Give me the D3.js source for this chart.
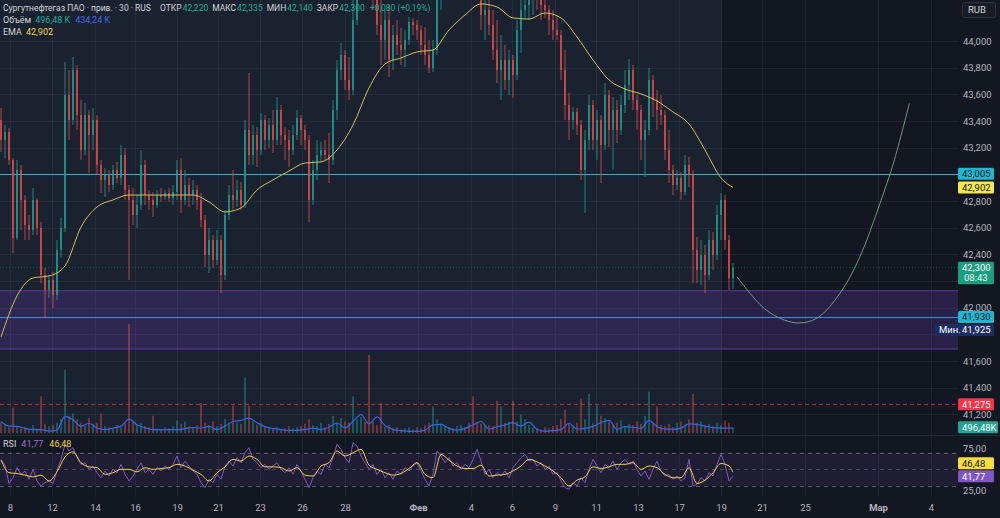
<!DOCTYPE html>
<html><head><meta charset="utf-8">
<script src="https://cdn.jsdelivr.net/npm/d3@7"></script>
<style>html,body{margin:0;padding:0;background:#131722;}svg{display:block;}text{font-family:Roboto,"Noto Sans",sans-serif;}</style>
</head><body><svg id="c" width="1000" height="518"></svg>
<script>
// ---------- DATA ----------
const opens=[43.408,43.258,43.318,43.108,42.523,43.033,42.808,42.62,42.583,42.808,
42.598,42.245,42.133,42.208,42.095,42.433,42.598,43.595,43.408,43.783,
43.445,43.183,43.445,43.295,43.408,43.07,42.958,42.995,42.92,43.033,
42.973,43.145,42.883,42.808,42.695,42.77,43.07,42.845,42.808,42.77,
42.845,42.83,42.86,42.823,42.868,43.033,42.808,42.92,42.845,42.883,
42.808,42.658,42.395,42.508,42.358,42.508,42.245,42.695,42.845,42.808,
42.883,42.77,43.333,43.145,43.295,43.183,43.408,43.258,43.37,43.258,
43.483,43.295,43.258,43.183,43.295,43.423,43.333,43.258,42.808,43.033,
43.145,43.183,43.145,43.108,43.483,43.783,43.895,43.708,43.633,44.158,
44.533,44.608,44.533,44.458,44.308,44.12,44.008,44.158,43.858,44.045,
43.97,43.933,44.008,44.143,44.12,44.083,43.97,43.895,43.798,43.933,
44.308,44.458,44.533,44.683,44.608,44.72,44.758,44.683,44.608,44.495,
44.383,44.195,44.233,44.12,43.933,43.783,43.858,43.708,43.858,43.745,
44.083,44.233,44.27,44.308,44.345,44.308,44.27,44.233,44.158,44.083,
44.045,43.783,43.52,43.408,43.468,43.37,43.033,43.258,43.52,43.258,
43.408,43.22,43.595,43.333,43.483,43.333,43.52,43.67,43.783,43.558,
43.483,43.258,43.333,43.708,43.558,43.483,43.445,43.183,43.033,42.92,
42.973,42.868,43.07,42.995,42.433,42.283,42.395,42.245,42.508,42.395,
42.695,42.808,42.508,42.22];
const highs=[43.498,43.37,43.348,43.123,43.108,43.07,42.845,42.695,42.898,42.823,
42.643,42.30,42.245,42.268,42.508,42.673,43.843,43.783,43.88,43.82,
43.558,43.535,43.483,43.498,43.445,43.108,43.048,43.033,43.07,43.093,
43.22,43.198,42.92,42.898,42.845,43.183,43.108,42.883,42.868,42.883,
42.898,42.883,42.898,42.92,43.108,43.123,43.033,42.973,42.958,42.92,
42.86,42.695,42.598,42.545,42.583,42.545,42.733,42.92,43.033,42.958,
42.943,43.408,43.76,43.37,43.355,43.46,43.445,43.423,43.483,43.58,
43.52,43.355,43.333,43.37,43.483,43.445,43.37,43.295,43.108,43.258,
43.243,43.258,43.31,43.558,43.858,43.985,43.933,43.88,44.345,44.758,
44.833,44.908,44.758,44.683,44.458,44.308,44.233,44.27,44.12,44.158,
44.098,44.083,44.18,44.173,44.158,44.12,44.105,44.008,44.008,44.458,
44.533,44.608,44.758,44.833,44.833,44.908,44.945,44.833,44.758,44.645,
44.458,44.345,44.383,44.233,44.158,44.045,43.97,43.933,43.895,44.158,
44.308,44.383,44.42,44.458,44.458,44.42,44.383,44.27,44.233,44.195,
44.083,43.933,43.61,43.505,43.498,43.408,43.333,43.595,43.558,43.483,
43.445,43.685,43.633,43.58,43.558,43.595,43.783,43.865,43.82,43.595,
43.52,43.408,43.798,43.745,43.633,43.595,43.483,43.333,43.07,43.033,
43.018,43.145,43.13,43.033,42.53,42.508,42.47,42.583,42.568,42.77,
42.86,42.845,42.545,42.335];
const lows=[43.168,43.123,43.07,42.41,42.508,42.583,42.508,42.508,42.545,42.545,
42.185,41.925,42.073,41.998,42.058,42.373,42.568,43.258,43.37,43.333,
43.108,43.145,43.01,43.183,42.995,42.86,42.83,42.868,42.883,42.935,
42.92,42.808,42.208,42.62,42.598,42.733,42.77,42.733,42.68,42.748,
42.793,42.808,42.793,42.77,42.808,42.71,42.77,42.755,42.77,42.733,
42.605,42.305,42.26,42.30,42.32,42.11,42.208,42.658,42.733,42.755,
42.733,42.748,43.07,43.07,43.055,43.145,43.183,43.198,43.16,43.22,
43.22,43.108,43.055,43.145,43.258,43.22,43.183,42.643,42.77,42.958,
43.093,43.108,42.935,43.07,43.408,43.708,43.633,43.558,43.595,44.12,
44.345,44.383,44.345,44.233,44.045,43.82,43.858,43.73,43.783,43.895,
43.82,43.805,43.97,44.045,44.008,43.895,43.82,43.76,43.768,43.895,
44.233,44.345,44.458,44.533,44.495,44.608,44.608,44.533,44.42,44.308,
44.083,44.008,44.045,43.858,43.685,43.558,43.633,43.595,43.573,43.708,
43.91,44.158,44.158,44.195,44.233,44.158,44.173,44.045,44.008,44.008,
43.708,43.408,43.258,43.333,43.295,42.958,42.71,43.183,43.183,43.108,
42.935,43.183,43.205,43.033,43.235,43.295,43.46,43.558,43.483,43.333,
43.108,42.98,43.295,43.43,43.333,43.37,43.108,42.935,42.845,42.883,
42.808,42.845,42.905,42.185,42.185,42.17,42.11,42.208,42.283,42.358,
42.508,42.433,42.133,42.14];
const closes=[43.258,43.318,43.108,42.523,43.033,42.808,42.62,42.583,42.808,42.598,
42.245,42.133,42.208,42.095,42.433,42.598,43.595,43.408,43.783,43.445,
43.183,43.445,43.295,43.408,43.07,42.958,42.995,42.92,43.033,42.973,
43.145,42.883,42.808,42.695,42.77,43.07,42.845,42.808,42.77,42.845,
42.83,42.86,42.823,42.868,43.033,42.808,42.92,42.845,42.883,42.808,
42.658,42.395,42.508,42.358,42.508,42.245,42.695,42.845,42.808,42.883,
42.77,43.333,43.145,43.295,43.183,43.408,43.258,43.37,43.258,43.483,
43.295,43.258,43.183,43.295,43.423,43.333,43.258,42.808,43.033,43.145,
43.183,43.145,43.108,43.483,43.783,43.895,43.708,43.633,44.158,44.533,
44.608,44.533,44.458,44.308,44.12,44.008,44.158,43.858,44.045,43.97,
43.933,44.008,44.143,44.12,44.083,43.97,43.895,43.798,43.933,44.308,
44.458,44.533,44.683,44.608,44.72,44.758,44.683,44.608,44.495,44.383,
44.195,44.233,44.12,43.933,43.783,43.858,43.708,43.858,43.745,44.083,
44.233,44.27,44.308,44.345,44.308,44.27,44.233,44.158,44.083,44.045,
43.783,43.52,43.408,43.468,43.37,43.033,43.258,43.52,43.258,43.408,
43.22,43.595,43.333,43.483,43.333,43.52,43.67,43.783,43.558,43.483,
43.258,43.333,43.708,43.558,43.483,43.445,43.183,43.033,42.92,42.973,
42.868,43.07,42.995,42.433,42.283,42.395,42.245,42.508,42.395,42.695,
42.808,42.508,42.22,42.30];
// volume, thousands
const volumes=[900,700,500,2200,600,400,500,300,700,400,3200,800,600,700,900,1200,
5500,1500,1700,1200,900,600,1300,800,900,1700,600,500,400,700,500,900,
9500,1100,700,900,600,500,1500,400,300,500,400,600,1100,800,1000,600,
500,700,2600,900,700,1000,600,800,1200,900,2400,900,800,4800,2400,1000,
700,900,600,500,400,500,300,400,600,400,500,600,800,1200,700,600,
900,500,800,1500,900,1300,1000,900,3200,1200,1400,1000,6800,1000,700,2600,
500,700,400,500,300,400,500,300,500,400,700,900,2300,1200,800,600,
500,400,600,700,500,900,3200,900,800,700,700,600,2800,2300,900,1000,
2800,1000,1600,1200,700,500,400,300,500,400,600,700,1200,2000,800,700,
900,3000,1200,3400,900,2400,1500,1300,1000,700,900,1100,600,800,700,1000,
800,1500,3600,900,2300,700,600,800,500,900,1000,700,1200,3400,900,1000,
700,800,600,900,700,1100,900,496.48];
// volume moving average, sampled every 2nd bar, last value at the last bar
const volumeMA=[1000,600,580,400,300,300,160,260,1450,1150,600,850,430,300,430,600,1200,720,450,300,
290,290,290,380,480,430,570,300,600,1000,1100,1300,900,550,400,300,230,230,300,430,
300,500,870,450,1000,1600,800,1400,650,320,200,145,145,250,700,750,400,240,400,700,
1000,350,550,700,900,600,950,320,150,200,300,850,350,400,580,900,1100,320,550,500,
400,1100,550,350,330,430,800,750,600,470,430,430,434.24];
// EMA sampled every 4th bar, last value at the last bar
const ema=[41.78,42.088,42.223,42.238,42.313,42.605,42.755,42.808,42.845,42.845,
42.845,42.845,42.845,42.793,42.718,42.748,42.883,42.958,43.025,43.085,
43.093,43.183,43.37,43.648,43.828,43.873,43.918,43.933,44.083,44.195,
44.278,44.255,44.173,44.165,44.21,44.173,44.03,43.858,43.708,43.64,
43.603,43.55,43.468,43.378,43.183,42.973,42.902];
const rsi=[62,55,33,40,52,44,48,38,50,36,30,34,36,33,48,62,80,72,76,64,
56,58,50,54,46,40,48,42,50,46,56,44,36,42,50,58,46,50,44,52,
48,54,50,56,66,52,60,54,48,44,34,28,38,34,44,38,54,60,54,64,
58,70,76,62,58,52,56,50,54,58,50,46,52,44,56,48,38,28,40,48,
44,56,52,64,80,74,64,58,82,78,66,58,50,56,44,50,40,46,38,48,
44,52,48,54,58,48,38,30,44,72,66,58,64,54,58,50,56,52,62,74,
60,44,50,40,46,42,48,40,52,58,64,68,60,62,54,58,50,54,44,46,
36,28,26,34,30,40,34,50,62,54,46,56,52,60,50,58,62,56,60,50,
42,48,38,50,60,48,42,44,38,42,36,40,62,30,32,40,36,46,42,56,
68,56,36,41.77];
// RSI moving average sampled every 2nd bar, last value at the last bar
const rsiMA=[61,46,45,43,41,43,36,47,65,71,58,53,52,44,46,50,50,47,52,50,
51,52,56,54,49,44,36,46,53,62,60,66,62,53,53,52,48,52,43,42,
54,58,72,66,70,74,55,50,46,43,45,51,58,44,40,68,61,54,51,51,
55,42,43,44,48,54,62,59,54,48,40,30,37,41,53,51,53,56,56,58,
50,54,52,44,40,40,52,33,37,46,57,54,46.48];
// time axis (bar positions of day labels)
const tickPos=[2.25,12.75,23.5,33.5,44,54.25,64.75,75.25,86,104.25,117.5,127.75,138.5,148.75,159.25,169.5,180,190.25,201,219.25,232.5];
const tickLabels=['8','12','14','16','19','21','23','26','28','Фев','4','6','9','11','13','17','19','21','25','Мар','4'];
const monthLabels=['Фев','Мар'];
const priceTicks=[41.2,41.4,41.6,41.8,42.0,42.2,42.4,42.6,42.8,43.0,43.2,43.4,43.6,43.8,44.0];
const rsiTicks=[75,25];
const rsiLevels=[70,50,30];
// drawings
const hLevels=[43.005,41.93];
const zone=[42.127,41.69];
const redLevel=41.275;
const lastPrice=42.30, lastOpen=42.22, lastHigh=42.335, lastLow=42.14, minPrice=41.925;
const rangeEndBar=180.25;
const projection=[[184,42.232],[191.4,41.98],[198.5,41.887],[203.9,41.92],[209.75,42.108],[214.75,42.383],[219.75,42.783],[223.1,43.083],[227.1,43.533]];

// ---------- CHART ----------
const svg=d3.select('#c');
const W=1000,H=518,paneR=958,mainB=434,rsiT=436,rsiB=497;
const x=d3.scaleLinear().domain([0,183]).range([1,733]);
const y=d3.scaleLinear().domain([42,44]).range([307.67,41]);
const yVol=d3.scaleLinear().domain([0,8700]).range([433,333]);
const yR=d3.scaleLinear().domain([30,70]).range([486,452.7]);
const f3=d=>d3.format('.3f')(d).replace('.',',');
const f2=d=>d3.format('.2f')(d).replace('.',',');
const UP='#26a69a',DN='#ef5350';
const isUp=i=>closes[i]>=opens[i];

svg.append('rect').attr('width',W).attr('height',H).attr('fill','#131722');
const defs=svg.append('defs');
defs.append('clipPath').attr('id','cm').append('rect').attr('x',0).attr('y',0).attr('width',paneR).attr('height',mainB);
defs.append('clipPath').attr('id','cr').append('rect').attr('x',0).attr('y',rsiT).attr('width',paneR).attr('height',rsiB-rsiT);

const main=svg.append('g').attr('clip-path','url(#cm)');
main.append('rect').attr('x',0).attr('y',0).attr('width',x(rangeEndBar)).attr('height',mainB).attr('fill','#1a212f');

// grid
const gridC='rgba(140,150,175,0.09)';
svg.append('g').selectAll('line').data(tickPos).join('line')
  .attr('x1',d=>Math.round(x(d))+0.5).attr('x2',d=>Math.round(x(d))+0.5).attr('y1',0).attr('y2',rsiB)
  .attr('stroke',gridC);
main.append('g').selectAll('line').data(priceTicks).join('line')
  .attr('x1',0).attr('x2',paneR).attr('y1',d=>Math.round(y(d))+0.5).attr('y2',d=>Math.round(y(d))+0.5)
  .attr('stroke',gridC);

// zone
main.append('rect').attr('x',0).attr('width',paneR).attr('y',y(zone[0])).attr('height',y(zone[1])-y(zone[0]))
  .attr('fill','rgba(103,58,183,0.26)');
main.append('g').selectAll('line').data(zone).join('line').attr('x1',0).attr('x2',paneR)
  .attr('y1',d=>y(d)).attr('y2',d=>y(d)).attr('stroke','#5b3a95').attr('stroke-width',1.2);

// volume
main.append('g').selectAll('rect').data(volumes).join('rect')
  .attr('x',(d,i)=>x(i)-0.9).attr('width',1.8).attr('y',d=>yVol(d)).attr('height',d=>433-yVol(d))
  .attr('fill',(d,i)=>isUp(i)?'rgba(38,166,154,0.45)':'rgba(239,83,80,0.45)');
const vmaPts=volumeMA.map((v,k)=>[k<volumeMA.length-1?2*k:183,v]);
main.append('path').datum(vmaPts).attr('fill','none').attr('stroke','#2f66f0').attr('stroke-width',1.2)
  .attr('d',d3.line().x(d=>x(d[0])).y(d=>yVol(d[1])).curve(d3.curveMonotoneX));

// horizontal levels
main.append('line').attr('x1',0).attr('x2',paneR).attr('y1',y(lastPrice)).attr('y2',y(lastPrice))
  .attr('stroke','#089981').attr('stroke-opacity',0.5).attr('stroke-dasharray','1,2');
main.append('line').attr('x1',0).attr('x2',paneR).attr('y1',y(redLevel)).attr('y2',y(redLevel))
  .attr('stroke','#f23645').attr('stroke-opacity',0.75).attr('stroke-dasharray','4,3');
main.append('g').selectAll('line').data(hLevels).join('line').attr('x1',0).attr('x2',paneR)
  .attr('y1',d=>Math.round(y(d))+0.5).attr('y2',d=>Math.round(y(d))+0.5)
  .attr('stroke',(d,i)=>i===0?'#2bb3cc':'#3f8fd8').attr('stroke-width',1);

// candles
const cg=main.append('g');
cg.selectAll('line').data(opens).join('line')
  .attr('x1',(d,i)=>x(i)).attr('x2',(d,i)=>x(i)).attr('y1',(d,i)=>y(highs[i])).attr('y2',(d,i)=>y(lows[i]))
  .attr('stroke',(d,i)=>isUp(i)?UP:DN).attr('stroke-width',1).attr('stroke-opacity',0.75);
cg.selectAll('rect').data(opens).join('rect')
  .attr('x',(d,i)=>x(i)-0.9).attr('width',1.8)
  .attr('y',(d,i)=>y(Math.max(opens[i],closes[i])))
  .attr('height',(d,i)=>Math.max(1,Math.abs(y(opens[i])-y(closes[i]))))
  .attr('fill',(d,i)=>isUp(i)?UP:DN).attr('fill-opacity',0.75);

// EMA
const emaPts=ema.map((v,k)=>[k<ema.length-1?4*k:183,v]);
main.append('path').datum(emaPts).attr('fill','none').attr('stroke','#cbbf5c').attr('stroke-width',1)
  .attr('d',d3.line().x(d=>x(d[0])).y(d=>y(d[1])).curve(d3.curveMonotoneX));

// projection curve
main.append('path').datum(projection).attr('fill','none').attr('stroke','#7fae85').attr('stroke-opacity',0.85).attr('stroke-width',1)
  .attr('d',d3.line().x(d=>x(d[0])).y(d=>y(d[1])).curve(d3.curveCatmullRom));

// pane separator
svg.append('line').attr('x1',0).attr('x2',W).attr('y1',435.5).attr('y2',435.5).attr('stroke','#262b38');

// RSI pane
const rg=svg.append('g').attr('clip-path','url(#cr)');
function y0(d){return Math.round(yR(d))+0.5;}
rg.append('rect').attr('x',0).attr('width',paneR).attr('y',yR(70)).attr('height',yR(30)-yR(70)).attr('fill','rgba(126,87,194,0.1)');
rg.selectAll('line.lv').data(rsiLevels).join('line').attr('class','lv').attr('x1',0).attr('x2',paneR)
  .attr('y1',d=>y0(d)).attr('y2',d=>y0(d)).attr('stroke','#787b86').attr('stroke-opacity',d=>d===50?0.45:0.7).attr('stroke-dasharray','4,4');
rg.append('path').datum(rsi).attr('fill','none').attr('stroke','#7e57c2').attr('stroke-width',1)
  .attr('d',d3.line().x((d,i)=>x(i)).y(d=>yR(d)));
const rmaPts=rsiMA.map((v,k)=>[k<rsiMA.length-1?2*k:183,v]);
rg.append('path').datum(rmaPts).attr('fill','none').attr('stroke','#e9cf45').attr('stroke-width',1)
  .attr('d',d3.line().x(d=>x(d[0])).y(d=>yR(d[1])).curve(d3.curveMonotoneX));

// price label boxes (collected so that axis labels beneath them are hidden)
const fontSz='9.5px', axC='#b2b5be';
const boxes=[];
const boxLayer=svg.append('g');
function box(yc,txt,fill,tc,x0=paneR,w=36,h=12,top=yc-h/2){
  const g=boxLayer.append('g');
  g.append('rect').attr('x',x0).attr('y',top).attr('width',w).attr('height',h).attr('rx',1.5).attr('fill',fill);
  g.append('text').attr('x',x0+4).attr('y',yc).attr('dy','0.35em').attr('fill',tc).style('font-size',fontSz).text(txt);
  if(x0>=paneR) boxes.push([top,top+h]);
  return g;
}
box(y(hLevels[0]),f3(hLevels[0]),'#1fb6d0','#131722');
box(y(ema[ema.length-1]),f3(ema[ema.length-1]),'#f5e84a','#131722');
{
  const g=box(y(lastPrice),f3(lastPrice),'#1e9e80','#ffffff',paneR,36,22.5,y(lastPrice)-6);
  g.append('text').attr('x',paneR+6).attr('y',y(lastPrice)+10.5).attr('dy','0.35em').attr('fill','#e8f5f1').style('font-size',fontSz).text('08:43');
}
box(y(hLevels[1]),f3(hLevels[1]),'#1fb6d0','#131722');
box(y(hLevels[1])+13,f3(minPrice),'#1c2d62','#ffffff');
box(y(hLevels[1])+13,'Мин.','#1c2d62','#ffffff',paneR-23,23);
box(y(redLevel),f3(redLevel),'#f23645','#ffffff');
box(yVol(volumes[volumes.length-1]),f2(volumes[volumes.length-1])+'K','#22a393','#ffffff',paneR,40);
box(yR(rsi[rsi.length-1])-13,f2(rsiMA[rsiMA.length-1]),'#f7dc3c','#131722');
box(yR(rsi[rsi.length-1]),f2(rsi[rsi.length-1]),'#7e57c2','#ffffff');

// axes
const hidden=v=>boxes.some(b=>y(v)+3>b[0]&&y(v)-3<b[1]);
const shownTicks=priceTicks.filter(v=>!hidden(v));
const pa=svg.append('g').attr('transform',`translate(${paneR},0)`)
  .call(d3.axisRight(y).tickValues(shownTicks).tickFormat(f3).tickSize(0).tickPadding(5));
const ra=svg.append('g').attr('transform',`translate(${paneR},0)`)
  .call(d3.axisRight(yR).tickValues(rsiTicks).tickFormat(f2).tickSize(0).tickPadding(5));
const xa=svg.append('g').attr('transform','translate(0,500)')
  .call(d3.axisBottom(x).tickValues(tickPos).tickFormat((d,i)=>tickLabels[i]).tickSize(0).tickPadding(4));
[pa,ra,xa].forEach(a=>{a.select('.domain').remove();a.selectAll('text').attr('fill',axC).style('font-size',fontSz).style('font-family','Roboto');});
xa.selectAll('text').style('font-weight',d=>monthLabels.includes(tickLabels[tickPos.indexOf(d)])?'bold':'normal');
svg.node().appendChild(boxLayer.node());

// currency
svg.append('rect').attr('x',962.5).attr('y',2.5).attr('width',33).attr('height',15).attr('rx',2).attr('fill','#181c27').attr('stroke','#2e323e');
svg.append('text').attr('x',968).attr('y',10).attr('dy','0.35em').attr('fill','#d1d4dc').style('font-size',fontSz).text('RUB');

// legend: texts flow left to right, each starting at its reference column or after the previous one
const gc='#d1d4dc', tc='#22ab94';
function flow(yb,size,items){
  const g=svg.append('g').attr('transform',`translate(0,${yb})`).style('font-size',size);
  let cur=0;
  items.forEach(it=>{
    const xp=Math.max(cur,it[2]||0);
    const t=g.append('text').attr('x',xp).attr('fill',it[1]).text(it[0]);
    cur=xp+t.node().getComputedTextLength()+(it[3]||1);
  });
}
flow(11,'8.5px',[
  ['Сургутнефтегаз ПАО · прив. · 30 · RUS',gc,3],
  ['ОТКР',gc,160],[f3(lastOpen),tc,0,4],
  ['МАКС',gc,209],[f3(lastHigh),tc,0,4],
  ['МИН',gc,261],[f3(lastLow),tc,0,4],
  ['ЗАКР',gc,309],[f3(lastPrice),tc,0,5],
  ['+'+f3(lastPrice-lastOpen)+' (+'+f2((lastPrice-lastOpen)/lastOpen*100)+'%)',tc,359]
]);
flow(23,'9px',[['Объём',gc,3,4],[f2(volumes[volumes.length-1])+' K',tc,34,5],[f2(volumeMA[volumeMA.length-1])+' K','#3b6fe6',70]]);
flow(35,'9px',[['EMA',gc,3,4],[f3(ema[ema.length-1]),'#efd84a',23]]);
flow(447,'9px',[['RSI',gc,3,5],[f2(rsi[rsi.length-1]),'#9575cd',20,6],[f2(rsiMA[rsiMA.length-1]),'#f2d540',45]]);
</script></body></html>
